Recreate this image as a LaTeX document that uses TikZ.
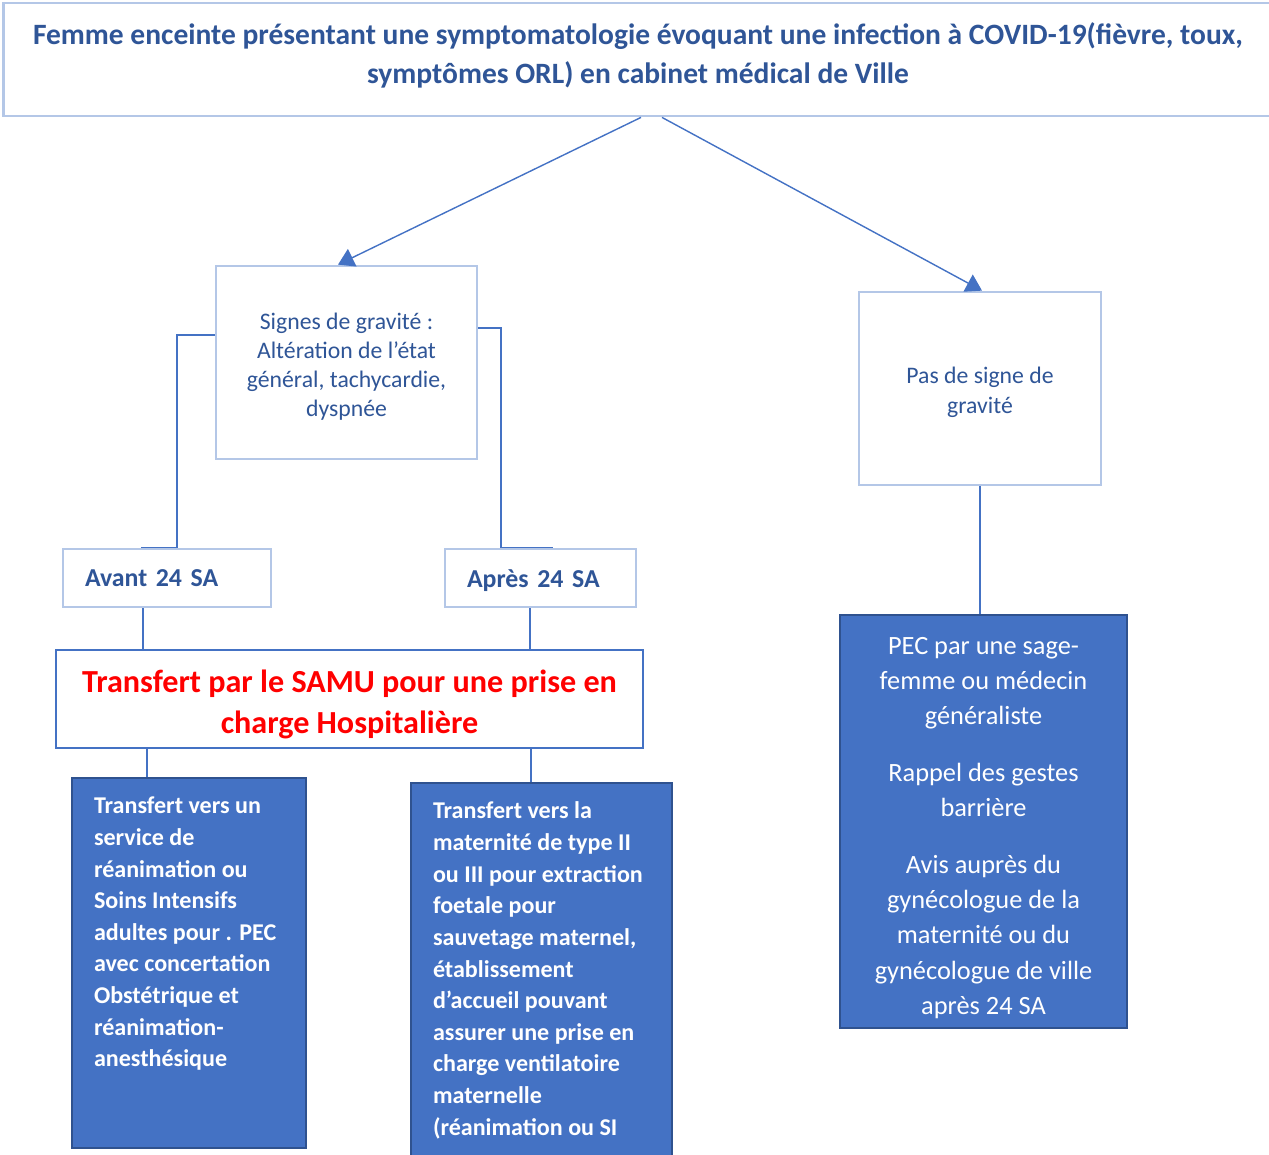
\documentclass[tikz,border=0pt]{standalone}
\usepackage{fontspec}
\setmainfont{Carlito}
\usetikzlibrary{arrows.meta}
\definecolor{titleblue}{HTML}{2F5597}
\definecolor{paleblue}{HTML}{B4C7E7}
\definecolor{midblue}{HTML}{4472C4}
\definecolor{deepblue}{HTML}{2F528F}
\begin{document}
\begin{tikzpicture}[x=0.02cm,y=-0.02cm,
    palebox/.style={draw=paleblue,line width=1.6pt,fill=white,align=center,inner sep=0pt,text=titleblue},
    fullbox/.style={draw=deepblue,line width=1.4pt,fill=midblue,text=white,inner ysep=0pt,inner xsep=0.44cm},
    link/.style={draw=midblue,line width=0.8pt},
    arr/.style={link,-{Triangle[length=9pt,width=11pt]}}]
    \useasboundingbox (0,0) rectangle (1269,1154);

    % boxes
    \node[palebox,minimum width=25.4cm,minimum height=2.26cm,font=\bfseries\fontsize{16.8}{22}\selectfont] (femme) at (638,59.5)
        {Femme enceinte présentant une symptomatologie évoquant une infection à COVID-19(fièvre, toux,\\symptômes ORL) en cabinet médical de Ville\rule[-7pt]{0pt}{0pt}};
    \node[palebox,minimum width=5.22cm,minimum height=3.86cm,font=\fontsize{13.5}{16.4}\selectfont] (signes) at (346.5,362.5)
        {\rule{0pt}{14pt}Signes de gravité :\\Altération de l’état\\général, tachycardie,\\dyspnée};
    \node[palebox,minimum width=4.84cm,minimum height=3.86cm,font=\fontsize{13.5}{17}\selectfont] (pas) at (980,388.5)
        {\rule{0pt}{14pt}Pas de signe de\\gravité};
    \node[palebox,align=left,text width=3.28cm,inner xsep=0.44cm,minimum height=1.16cm,font=\bfseries\fontsize{14.7}{18}\selectfont] (avant) at (167,578)
        {Avant 24 SA};
    \node[palebox,align=left,text width=2.94cm,inner xsep=0.44cm,minimum height=1.16cm,font=\bfseries\fontsize{14.7}{18}\selectfont] (apres) at (540.5,578)
        {\rule{0pt}{13pt}Après 24 SA};
    \node[draw=midblue,line width=1.6pt,fill=white,align=center,inner sep=0pt,minimum width=11.74cm,minimum height=1.96cm,
        text=red,font=\bfseries\fontsize{18.3}{23.8}\selectfont] (samu) at (349.5,699)
        {\rule{0pt}{19pt}Transfert par le SAMU pour une prise en\\charge Hospitalière};
    \node[fullbox,font=\bfseries\fontsize{13.7}{18}\selectfont] (rea) at (189,963)
        {\parbox[c][7.4cm][t]{3.8cm}{\vspace*{0.38cm}\raggedright
        Transfert vers un\\service de\\réanimation ou\\Soins Intensifs\\adultes pour . PEC\\avec concertation\\Obstétrique et\\réanimation-\\anesthésique}};
    \node[fullbox,font=\bfseries\fontsize{13.7}{18}\selectfont] (mater) at (541.5,971.5)
        {\parbox[c][7.54cm][t]{4.34cm}{\vspace*{0.38cm}\raggedright
        Transfert vers la\\maternité de type II\\ou III pour extraction\\foetale pour\\sauvetage maternel,\\établissement\\d’accueil pouvant\\assurer une prise en\\charge ventilatoire\\maternelle\\(réanimation ou SI}};
    \node[fullbox,align=center,inner sep=0pt,minimum width=5.74cm,minimum height=8.26cm,font=\fontsize{15}{20.1}\selectfont] (pec) at (983.5,821.5)
        {\rule{0pt}{17pt}PEC par une sage-\\femme ou médecin\\généraliste\\[12pt]Rappel des gestes\\barrière\\[12pt]Avis auprès du\\gynécologue de la\\maternité ou du\\gynécologue de ville\\après 24 SA};

    % connectors
    \draw[arr] ([xshift=0.06cm]femme.south) -- ([xshift=-0.17cm]signes.north);
    \draw[arr] ([xshift=0.48cm]femme.south) -- ([xshift=0.04cm]pas.north);
    \draw[link] ([yshift=0.55cm]signes.west) -| ([xshift=0.2cm]avant.north) -- ([xshift=-0.52cm]avant.north);
    \draw[link] ([yshift=0.69cm]signes.east) -| ([xshift=-0.79cm]apres.north) -- ([xshift=0.25cm]apres.north);
    \draw[link] ([xshift=-0.48cm]avant.south) -- ([xshift=-0.48cm]avant.south |- samu.north);
    \draw[link] ([xshift=-0.21cm]apres.south) -- ([xshift=-0.21cm]apres.south |- samu.north);
    \draw[link] ([xshift=-0.84cm]rea.north) -- ([xshift=-0.84cm]rea.north |- samu.south);
    \draw[link] ([xshift=-0.21cm]mater.north) -- ([xshift=-0.21cm]mater.north |- samu.south);
    \draw[link] (pas.south) -- (pas.south |- pec.north);
\end{tikzpicture}
\end{document}
